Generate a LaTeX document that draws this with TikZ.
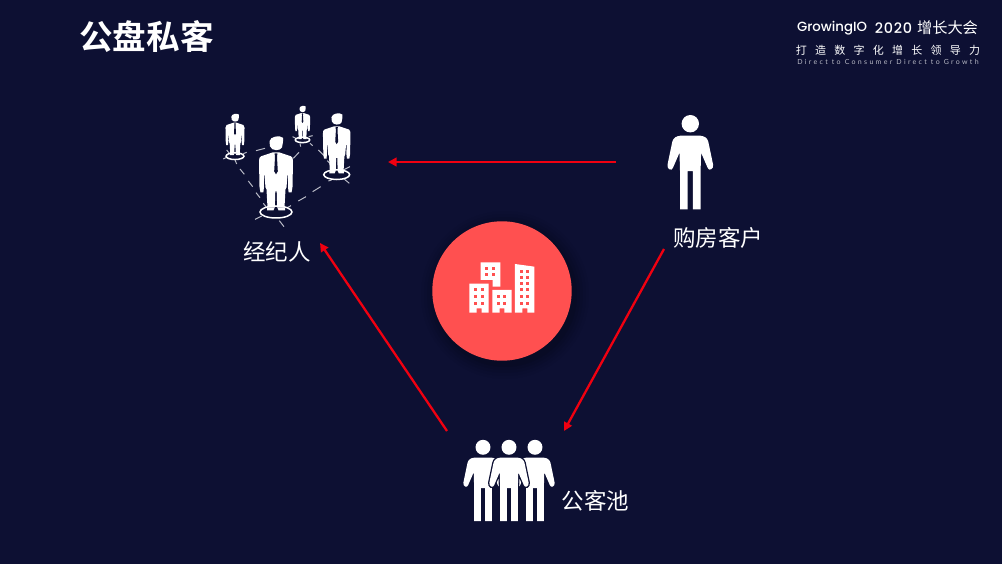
\documentclass[tikz,border=0pt]{standalone}
\usepackage{fontspec}
\setmainfont{Noto Sans CJK SC}
\newfontfamily\cjkreg{Noto Sans CJK SC}
\newfontfamily\cjkbold{Noto Sans CJK SC Bold}[]
\newfontfamily\hdlatin{Poppins Medium}
\newfontfamily\hdnum[LetterSpace=5]{Poppins Medium}
\newfontfamily\hdspaced[LetterSpace=75]{Noto Sans CJK SC}
\newfontfamily\hdtiny[LetterSpace=33]{Lato}
\usetikzlibrary{arrows.meta}
\definecolor{navy}{HTML}{0D1033}
\definecolor{disc}{HTML}{FF5050}
\definecolor{arrowred}{HTML}{F00010}
\definecolor{dashgrey}{HTML}{B9BAC6}
\tikzset{
  every node/.style={inner sep=0pt,outer sep=0pt},
  label text/.style={text=white,font=\cjkreg\fontsize{22.5}{22.5}\selectfont,anchor=center},
  flow/.style={draw=arrowred,line width=2.3pt,-{Triangle[length=8.5pt,width=8.5pt]}},
  tick/.style={draw=dashgrey,line width=1pt},
  body halo/.style={},
  pics/person/.style={code={
    \fill[white,body halo] (0,0) circle (8.7);
    \fill[white,body halo,line join=round]
      (-10,12) .. controls (-14,12.5) and (-17,14) .. (-18,18)
      -- (-22.8,41) .. controls (-23.6,45.5) and (-18.5,48) .. (-17.3,44)
      -- (-10.8,29) -- (-10.3,47) -- (-10.3,85.8) -- (-2.6,85.8) -- (-2.6,47.5)
      -- (2.6,47.5) -- (2.6,85.8) -- (10.3,85.8) -- (10.3,47) -- (10.8,29)
      -- (17.3,44) .. controls (18.5,48) and (23.6,45.5) .. (22.8,41)
      -- (18,18) .. controls (17,14) and (14,12.5) .. (10,12) -- cycle;
  }},
  pics/suitman/.style={code={
    \draw[white,line width=1.5pt] (0,68.7) ellipse (16 and 6);
    \fill[white] (-6.5,-2) .. controls (-6,-7) and (4,-8.5) .. (7,-5.5)
      .. controls (7.2,-3) and (7,1) .. (6,4) .. controls (4.5,8) and (-4.5,8) .. (-6,3) -- cycle;
    \fill[white] (-6,10) -- (-3,9) -- (3,9) -- (6,10) -- (15,13)
      .. controls (16.5,14) and (17,15) .. (17,18)
      -- (16.5,43.5) -- (15.6,49) -- (12.6,49) -- (12,43.5) -- (12.2,32) -- (11.5,32)
      -- (10.5,44) -- (9.5,46) -- (8.5,64) -- (1.2,64) -- (0.7,48) -- (-0.7,48) -- (-1.2,64) -- (-8.5,64) -- (-9.5,46) -- (-10.5,44)
      -- (-11.5,32) -- (-12.2,32) -- (-12,43.5) -- (-12.6,49) -- (-15.6,49) -- (-16.5,43.5)
      -- (-17,18) .. controls (-17,15) and (-16.5,14) .. (-15,13) -- cycle;
    \fill[navy] (-1.4,10) -- (1.4,10) -- (1,14) -- (1.8,28) -- (0,31) -- (-1.8,28) -- (-1,14) -- cycle;
    \fill[white] (-9,64) -- (-1.2,64) -- (-2.5,67) -- (-9,67) -- cycle (9,64) -- (1.2,64) -- (2.5,67) -- (9,67) -- cycle;
  }},
  windowfill/.style={fill=disc},
}
\begin{document}
\begin{tikzpicture}[x=1pt,y=-1pt]
\useasboundingbox (0,0) rectangle (1002,564);
\fill[navy] (0,0) rectangle (1002,564);

% title and header
\node[anchor=center,text=white] (title) at (146.5,37) {\cjkbold\fontsize{33.6}{33.6}\selectfont 公盘私客};
\node[anchor=center,text=white] (head1a) at (832,28) {\hdlatin\fontsize{13.3}{15}\selectfont GrowingIO};
\node[anchor=center,text=white] (head1b) at (893.5,28) {\hdnum\fontsize{14.4}{15}\selectfont 2020};
\node[anchor=center,text=white] (head1c) at (947.5,28) {\cjkreg\fontsize{15.2}{15}\selectfont 增长大会};
\node[anchor=center,text=white] (head2) at (888,50) {\hdspaced\fontsize{11}{11}\selectfont 打造数字化增长领导力};
\node[anchor=center,text=dashgrey] (head3) at (888,62) {\hdtiny\fontsize{7}{8}\selectfont Direct to Consumer Direct to Growth};

% centre disc
\foreach \r/\o in {84/0.03,81/0.04,78/0.05,75/0.06,72/0.08}{
  \fill[black,opacity=\o] (505,295) circle (\r);
}
\fill[disc] (502,291) circle (69.7);
\begin{scope}[shift={(425,215)},x=0.3333pt,y=-0.3333pt]
  \fill[white] (167,142) -- (226,142) -- (226,215) -- (203,215) -- (203,195) -- (167,195) -- cycle;
  \fill[white] (133,206) -- (191,206) -- (191,293) -- (170,293) -- (170,280) -- (155,280) -- (155,293) -- (133,293) -- cycle;
  \fill[white] (202,225) -- (260,225) -- (260,293) -- (238,293) -- (238,280) -- (224,280) -- (224,293) -- (202,293) -- cycle;
  \fill[white] (270,147) -- (328,155) -- (328,293) -- (307,293) -- (307,280) -- (292,280) -- (292,293) -- (270,293) -- cycle;
  \foreach \x/\y in {186/160,205/160,186/180,205/180,
    153/225,172/225,153/245,172/245,153/265,172/265,
    220/245,240/245,220/265,240/265,
    290/170,309/170,290/187,309/187,290/205,309/205,290/225,309/225,290/245,309/245,290/265,309/265}{
    \fill[windowfill] (\x-4.5,\y-4.5) rectangle (\x+4.5,\y+4.5);
  }
\end{scope}

% brokers group
\begin{scope}[shift={(210,95)},x=0.3333pt,y=-0.3333pt]
  \foreach \a/\b/\c/\d in {138/167/165/160, 90/222/103/238, 115/258/128/275, 138/293/150/308, 160/325/168/335,
    265/318/288/305, 308/290/332/275, 250/190/267/172, 325/165/342/182, 352/197/360/205,
    135/373/155/363, 208/377/222/395, 232/338/243/332,
    40/192/52/186, 75/195/80/207, 100/176/110/172, 50/165/58/175,
    248/125/258/130, 300/145/308/152, 296/125/308/122, 270/145/272/155,
    400/225/420/215, 400/250/418/265, 355/258/365/255}{
    \draw[tick] (\a,\b) -- (\c,\d);
  }
\end{scope}
\pic[scale=0.56] at (235,117.7) {suitman};
\pic[scale=0.45] at (302.5,109) {suitman};
\pic[scale=0.81] at (336.7,119) {suitman};
\pic at (276,143.3) {suitman};

% customer and pool
\pic at (690.3,123.7) {person};
\pic[scale=0.86] at (483,447.3) {person};
\pic[scale=0.86] at (535,447.3) {person};
\begin{scope}[body halo/.style={preaction={draw=navy,line width=2.6pt}}]
\pic[scale=0.86] at (509,447.3) {person};
\end{scope}

% labels
\node[label text] (broker) at (277,252) {经纪人};
\node[label text] (buyer) at (718,238) {购房客户};
\node[label text] (pool) at (595.5,501) {公客池};

% connectors
\coordinate (buyerOut) at (616,162);
\coordinate (brokerIn) at (388,162);
\coordinate (poolOut) at (447,431);
\coordinate (brokerIn2) at (320,243);
\coordinate (buyerOut2) at (664,249);
\coordinate (poolIn) at (564,431);
\draw[flow] (buyerOut) -- (brokerIn);
\draw[flow] (poolOut) -- (brokerIn2);
\draw[flow] (buyerOut2) -- (poolIn);
\end{tikzpicture}
\end{document}
